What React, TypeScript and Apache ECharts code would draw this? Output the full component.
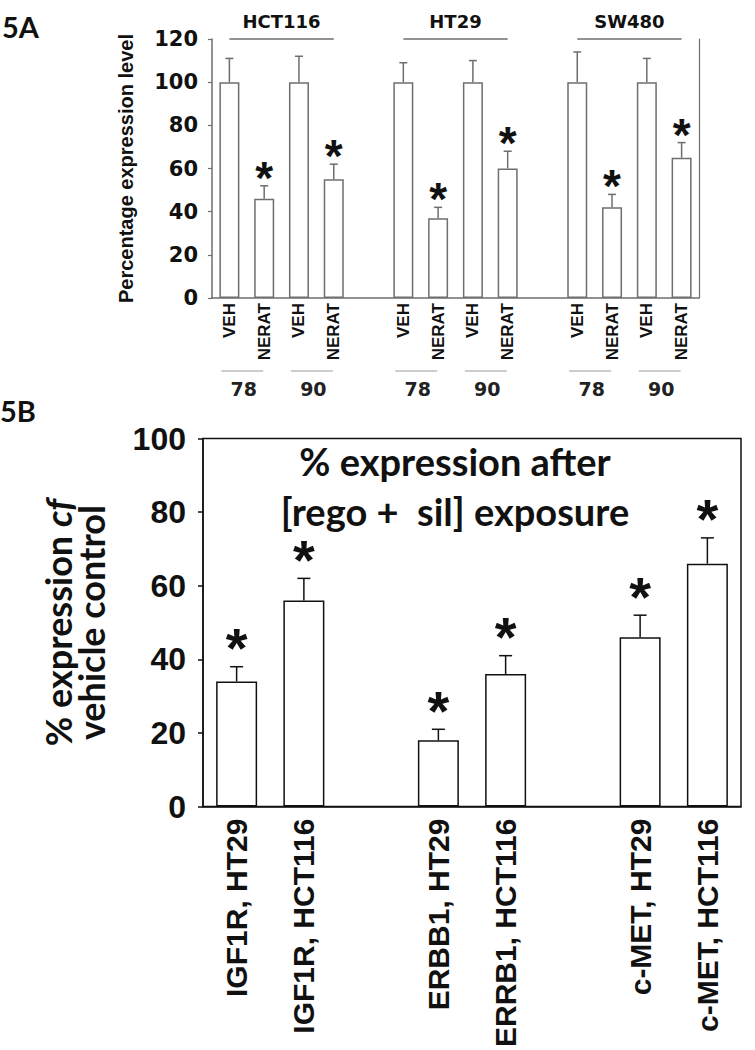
import React, { useEffect, useRef } from "react";
import * as echarts from "echarts";

// ---------- Panel 5A data ----------
const catA = ["VEH", "NERAT", "VEH", "NERAT", "", "VEH", "NERAT", "VEH", "NERAT", "", "VEH", "NERAT", "VEH", "NERAT"];
const valA = [100, 46, 100, 55, null, 100, 37, 100, 60, null, 100, 42, 100, 65];
const errA = [111, 52, 112, 62, null, 109, 42, 110, 68, null, 114, 48, 111, 72];
const sigA = [0, 1, 0, 1, 0, 0, 1, 0, 1, 0, 0, 1, 0, 1];
const groupNamesA = ["HCT116", "HT29", "SW480"];
const groupStartA = [0, 5, 10];
const groupEndA = [3, 8, 13];
const subNamesA = ["78", "90", "78", "90", "78", "90"];
const subStartA = [0, 2, 5, 7, 10, 12];
const subEndA = [1, 3, 6, 8, 11, 13];

// ---------- Panel 5B data ----------
const catB = ["IGF1R, HT29", "IGF1R, HCT116", "", "ERBB1, HT29", "ERRB1, HCT116", "", "c-MET, HT29", "c-MET, HCT116"];
const valB = [34, 56, null, 18, 36, null, 46, 66];
const errB = [38, 62, null, 21, 41, null, 52, 73];
const sigB = [1, 1, 0, 1, 1, 0, 1, 1];

const GRAY = "#6e6e6e";

function errSeries(vals: (number | null)[], errs: (number | null)[], sig: number[], gi: number, color: string, capW: number, lw: number, starSize: number, starOff: number) {
  const data: number[][] = [];
  vals.forEach((v, i) => {
    if (v != null) data.push([i, v, errs[i] as number, sig[i]]);
  });
  return {
    type: "custom",
    xAxisIndex: gi,
    yAxisIndex: gi === 0 ? 0 : 2,
    clip: false,
    encode: { x: 0, y: [1, 2] },
    data,
    renderItem: (params: any, api: any) => {
      const x = api.value(0);
      const b = api.coord([x, api.value(1)]);
      const e = api.coord([x, api.value(2)]);
      const children: any[] = [
        { type: "line", shape: { x1: b[0], y1: b[1], x2: e[0], y2: e[1] }, style: { stroke: color, lineWidth: lw } },
        { type: "line", shape: { x1: e[0] - capW / 2, y1: e[1], x2: e[0] + capW / 2, y2: e[1] }, style: { stroke: color, lineWidth: lw } },
      ];
      if (api.value(3) === 1) {
        children.push({
          type: "text",
          x: e[0],
          y: e[1] - starOff,
          style: {
            text: "*",
            fontSize: starSize,
            lineHeight: Math.round(starSize * 0.45),
            fontWeight: "bold",
            fontFamily: "Liberation Sans",
            fill: "#111",
            align: "center",
            verticalAlign: "middle",
          },
        });
      }
      return { type: "group", children };
    },
  };
}

export default function App() {
  const ref = useRef<HTMLDivElement>(null);
  useEffect(() => {
    document.body.style.margin = "0";
    const chart = echarts.init(ref.current!, null, { renderer: "svg" });

    const groupData = groupNamesA.map((_, i) => [groupStartA[i], groupEndA[i], i, 120]);
    const subData = subNamesA.map((_, i) => [subStartA[i], subEndA[i], i, 0]);

    const option: any = {
      animation: false,
      backgroundColor: "#fff",
      grid: [
        { left: 212, right: 56, top: 39, bottom: 752, show: false },
        { left: 203, right: 14, top: 438.5, bottom: 237, show: true, borderColor: "#111", borderWidth: 1.5, backgroundColor: "transparent" },
      ],
      xAxis: [
        {
          type: "category",
          gridIndex: 0,
          data: catA,
          axisLine: { lineStyle: { color: GRAY, width: 1.5 } },
          axisTick: { show: false },
          axisLabel: { interval: 0, rotate: 90, margin: 5, fontSize: 17, fontWeight: "bold", fontFamily: "Liberation Sans", color: "#111" },
        },
        {
          type: "category",
          gridIndex: 1,
          data: catB,
          axisLine: { lineStyle: { color: "#111", width: 1.5 } },
          axisTick: { show: false },
          axisLabel: { interval: 0, rotate: 90, margin: 12, fontSize: 30, fontWeight: "bold", fontFamily: "Liberation Sans", color: "#111" },
        },
      ],
      yAxis: [
        {
          type: "value",
          gridIndex: 0,
          min: 0,
          max: 120,
          interval: 20,
          axisLine: { show: true, lineStyle: { color: GRAY, width: 1.5 } },
          axisTick: { show: true, length: 4, lineStyle: { color: GRAY, width: 1.2 } },
          splitLine: { show: false },
          axisLabel: { margin: 14, fontSize: 21, fontWeight: "bold", fontFamily: "DejaVu Sans", color: "#111" },
          name: "Percentage expression level",
          nameLocation: "middle",
          nameGap: 76,
          nameTextStyle: { fontSize: 20, fontWeight: "bold", fontFamily: "Liberation Sans", color: "#111" },
        },
        {
          type: "value",
          gridIndex: 0,
          position: "right",
          min: 0,
          max: 120,
          interval: 20,
          axisLine: { show: true, lineStyle: { color: GRAY, width: 1.2 } },
          axisTick: { show: false },
          axisLabel: { show: false },
          splitLine: { show: false },
        },
        {
          type: "value",
          gridIndex: 1,
          min: 0,
          max: 100,
          interval: 20,
          axisLine: { show: true, lineStyle: { color: "#111", width: 1.5 } },
          axisTick: { show: true, length: 5, lineStyle: { color: "#111", width: 1.5 } },
          splitLine: { show: false },
          axisLabel: { margin: 17, fontSize: 32, fontWeight: "bold", fontFamily: "Liberation Sans", color: "#111" },
          name: "% expression {i|cf}\nvehicle control",
          nameLocation: "middle",
          nameGap: 96,
          nameTextStyle: {
            fontSize: 36,
            fontWeight: "bold",
            fontFamily: "Lato",
            color: "#111",
            lineHeight: 33,
            rich: { i: { fontSize: 36, fontWeight: "bold", fontStyle: "italic", fontFamily: "Lato", color: "#111", lineHeight: 33 } },
          },
        },
      ],
      graphic: [
        { type: "text", left: 2, top: 12, style: { text: "5A", fontSize: 29, fontWeight: "bold", fontFamily: "Lato", fill: "#111" } },
        { type: "text", left: 0, top: 396, style: { text: "5B", fontSize: 29, fontWeight: "bold", fontFamily: "Lato", fill: "#111" } },
        {
          type: "text",
          x: 455,
          y: 486,
          style: {
            text: "% expression after\n[rego +  sil] exposure",
            fontSize: 38,
            lineHeight: 50,
            fontWeight: "bold",
            fontFamily: "Lato",
            fill: "#111",
            align: "center",
            verticalAlign: "middle",
          },
        },
      ],
      series: [
        {
          type: "bar",
          xAxisIndex: 0,
          yAxisIndex: 0,
          data: valA,
          barWidth: 20,
          itemStyle: { color: "#fff", borderColor: GRAY, borderWidth: 1.5 },
        },
        errSeries(valA, errA, sigA, 0, GRAY, 8, 1.5, 46, 8),
        {
          type: "custom",
          xAxisIndex: 0,
          yAxisIndex: 0,
          clip: false,
          encode: { x: [0, 1], y: 3 },
          data: groupData,
          renderItem: (params: any, api: any) => {
            const a = api.coord([api.value(0), api.value(3)]);
            const b = api.coord([api.value(1), api.value(3)]);
            const y = a[1];
            return {
              type: "group",
              children: [
                { type: "line", shape: { x1: a[0], y1: y, x2: b[0], y2: y }, style: { stroke: GRAY, lineWidth: 1.5 } },
                {
                  type: "text",
                  x: (a[0] + b[0]) / 2,
                  y: y - 18,
                  style: { text: groupNamesA[api.value(2)], fontSize: 18, fontWeight: "bold", fontFamily: "DejaVu Sans", fill: "#111", align: "center", verticalAlign: "middle" },
                },
              ],
            };
          },
        },
        {
          type: "custom",
          xAxisIndex: 0,
          yAxisIndex: 0,
          clip: false,
          encode: { x: [0, 1], y: 3 },
          data: subData,
          renderItem: (params: any, api: any) => {
            const a = api.coord([api.value(0), api.value(3)]);
            const b = api.coord([api.value(1), api.value(3)]);
            const y = a[1];
            return {
              type: "group",
              children: [
                { type: "line", shape: { x1: a[0] - 8, y1: y + 73, x2: b[0] - 1, y2: y + 73 }, style: { stroke: "#999", lineWidth: 1.2 } },
                {
                  type: "text",
                  x: (a[0] + b[0]) / 2 - 3,
                  y: y + 91,
                  style: { text: subNamesA[api.value(2)], fontSize: 19, fontWeight: "bold", fontFamily: "DejaVu Sans", fill: "#222", align: "center", verticalAlign: "middle" },
                },
              ],
            };
          },
        },
        {
          type: "bar",
          xAxisIndex: 1,
          yAxisIndex: 2,
          data: valB,
          barWidth: 41,
          itemStyle: { color: "#fff", borderColor: "#111", borderWidth: 1.5 },
        },
        errSeries(valB, errB, sigB, 1, "#111", 13, 1.5, 56, 19),
      ],
    };
    chart.setOption(option);
    return () => chart.dispose();
  }, []);
  return <div ref={ref} style={{ width: 755, height: 1050 }} />;
}
